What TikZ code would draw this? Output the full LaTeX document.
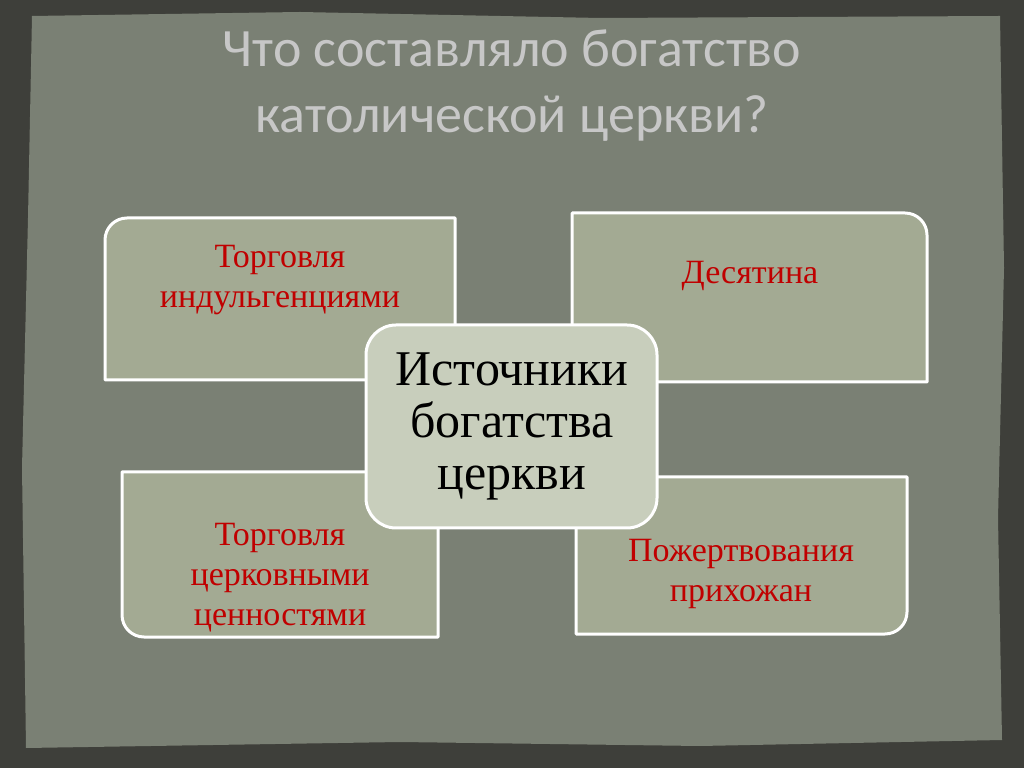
\documentclass[tikz,border=0pt]{standalone}
\usepackage{fontspec}
\setmainfont{Liberation Serif}
\newfontfamily\titlefont{Carlito}
\begin{document}
\begin{tikzpicture}[x=1pt,y=1pt,
  box/.style={fill=boxfill,draw=white,line width=3pt,line join=round},
  lbl/.style={text=boxred,font=\fontsize{34}{40}\selectfont,align=center},
]
\definecolor{boxfill}{HTML}{A3AA93}
\definecolor{boxred}{HTML}{C00000}
\definecolor{panel}{HTML}{7A8074}
\definecolor{frame}{HTML}{3E3F3A}
\definecolor{center}{HTML}{C8CEBC}
\useasboundingbox (0,0) rectangle (1024,768);
\fill[frame] (0,0) rectangle (1024,768);
\fill[panel] (32,752) -- (300,756) -- (600,750) -- (1000,752) -- (1004,500) -- (998,250) -- (1002,28) -- (700,22) -- (400,26) -- (26,20) -- (22,300) -- (28,550) -- cycle;
\node (title) [text=white!78!black,font=\titlefont\fontsize{54}{66}\selectfont,align=center] at (512,682) {Что составляло богатство\\католической церкви?};
% boxes
\draw[box] (455,550) -- (127,550) arc[start angle=90,end angle=180,radius=22] -- (105,388) -- (455,388) -- cycle;
\node (tl) [lbl] at (280,488) {Торговля\\индульгенциями};
\draw[box] (572,555) -- (905,555) arc[start angle=90,end angle=0,radius=22] -- (927,386) -- (572,386) -- cycle;
\node (tr) [lbl] at (750,492) {Десятина};
\draw[box] (122,296) -- (438,296) -- (438,131) -- (144,131) arc[start angle=270,end angle=180,radius=22] -- cycle;
\node (bl) [lbl] at (280,190) {Торговля\\церковными\\ценностями};
\draw[box] (576,291) -- (907,291) -- (907,156) arc[start angle=0,end angle=-90,radius=22] -- (576,134) -- cycle;
\node (br) [lbl] at (741,194) {Пожертвования\\прихожан};
\draw[box,fill=center,rounded corners=30] (366,443) rectangle (657,240);
\node (c) [font=\fontsize{50}{52}\selectfont,align=center] at (512,342) {Источники\\богатства\\церкви};
\end{tikzpicture}
\end{document}
